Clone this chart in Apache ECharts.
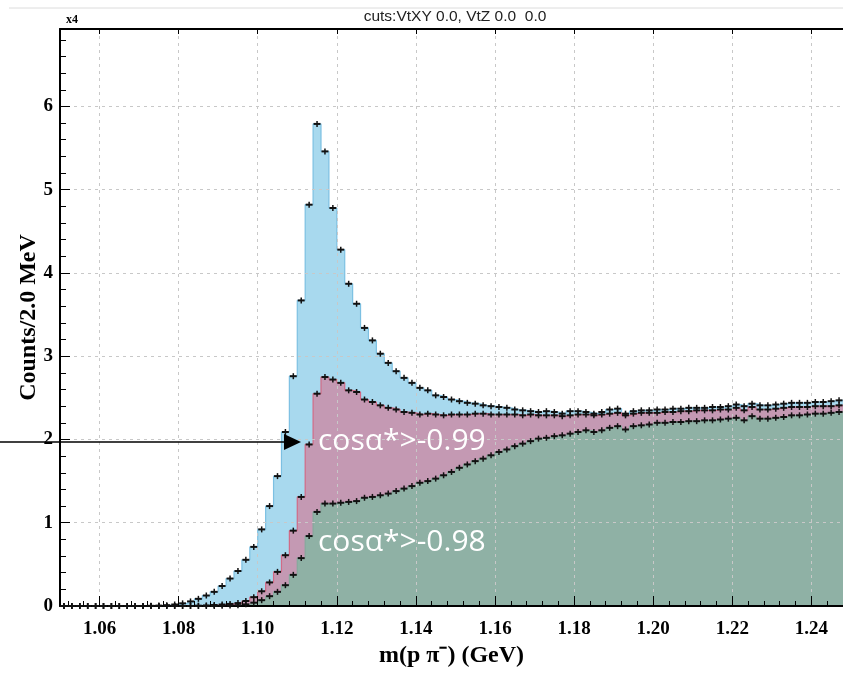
<!DOCTYPE html>
<html>
<head>
<meta charset="utf-8">
<script src="https://cdn.jsdelivr.net/npm/echarts@6/dist/echarts.min.js"></script>
<style>html,body{margin:0;padding:0;background:#fff}#c{width:843px;height:673px}</style>
</head>
<body>
<div id="c"></div>
<script>
// ---- data (counts x 10^4 per 2 MeV bin, bins start at 1.050 GeV) ----
const binStart = 1.05;
const binWidth = 0.002;
const xMin = 1.05, xMax = 1.248;
const xMajorTicks = [1.06, 1.08, 1.10, 1.12, 1.14, 1.16, 1.18, 1.20, 1.22, 1.24];
const yMajorTicks = [0, 1, 2, 3, 4, 5, 6];

// no cosα* cut (blue)
const countsAll = [
  0,0,0,0,0,0,0,0,0,0,
  0,0.002,0.005,0.010,0.018,0.032,0.055,0.086,0.126,0.17,
  0.24,0.33,0.42,0.555,0.71,0.92,1.20,1.56,2.09,2.76,
  3.67,4.82,5.79,5.46,4.78,4.28,3.87,3.63,3.34,3.19,
  3.03,2.92,2.82,2.74,2.68,2.62,2.59,2.53,2.51,2.48,
  2.46,2.44,2.43,2.41,2.40,2.39,2.38,2.36,2.35,2.34,
  2.33,2.34,2.33,2.31,2.34,2.34,2.33,2.31,2.33,2.36,
  2.37,2.31,2.34,2.35,2.35,2.36,2.36,2.37,2.37,2.38,
  2.38,2.38,2.39,2.39,2.40,2.42,2.40,2.43,2.41,2.41,
  2.42,2.43,2.44,2.44,2.44,2.45,2.45,2.46,2.47
];
// cosα* > -0.99 (pink)
const countsCut099 = [
  0,0,0,0,0,0,0,0,0,0,
  0,0,0,0,0,0,0,0.004,0.007,0.012,
  0.018,0.025,0.035,0.06,0.106,0.177,0.283,0.41,0.61,0.905,
  1.31,1.94,2.55,2.75,2.72,2.68,2.59,2.57,2.48,2.45,
  2.41,2.38,2.36,2.33,2.32,2.30,2.31,2.30,2.29,2.30,
  2.30,2.30,2.31,2.31,2.30,2.30,2.30,2.30,2.29,2.30,
  2.29,2.29,2.29,2.28,2.29,2.30,2.30,2.29,2.30,2.31,
  2.32,2.29,2.31,2.32,2.32,2.32,2.33,2.33,2.34,2.34,
  2.35,2.35,2.35,2.36,2.36,2.38,2.35,2.39,2.36,2.36,
  2.37,2.38,2.39,2.39,2.39,2.40,2.40,2.40,2.41
];
// cosα* > -0.98 (green)
const countsCut098 = [
  0,0,0,0,0,0,0,0,0,0,
  0,0,0,0,0,0,0,0,0,0,
  0.004,0.006,0.01,0.02,0.04,0.07,0.118,0.17,0.25,0.374,
  0.575,0.84,1.13,1.23,1.23,1.24,1.25,1.26,1.30,1.31,
  1.33,1.35,1.38,1.41,1.44,1.48,1.50,1.53,1.57,1.61,
  1.66,1.70,1.74,1.77,1.81,1.85,1.88,1.92,1.95,1.98,
  2.01,2.02,2.04,2.05,2.07,2.09,2.11,2.09,2.11,2.14,
  2.16,2.12,2.16,2.17,2.18,2.20,2.20,2.21,2.21,2.22,
  2.22,2.23,2.23,2.24,2.25,2.26,2.23,2.28,2.25,2.25,
  2.26,2.27,2.29,2.29,2.30,2.31,2.31,2.32,2.33
];

// ---- build ----
function edge(i){ return +(binStart + i * binWidth).toFixed(4); }
function stepData(arr){
  const d = arr.map((v, i) => [edge(i), v]);
  d.push([edge(arr.length), arr[arr.length - 1]]);
  return d;
}
function markData(arr){ return arr.map((v, i) => [edge(i), edge(i + 1), v]); }
function renderMark(params, api){
  const lo = api.value(0), hi = api.value(1), v = api.value(2);
  const a = api.coord([lo, v]), b = api.coord([hi, v]);
  const cx = (a[0] + b[0]) / 2;
  return { type: 'group', children: [
    { type: 'line', shape: { x1: a[0] + 0.5, y1: a[1], x2: b[0] - 0.5, y2: a[1] }, style: { stroke: '#111', lineWidth: 2 } },
    { type: 'line', shape: { x1: cx, y1: a[1] - 3, x2: cx, y2: a[1] + 3 }, style: { stroke: '#111', lineWidth: 1.5 } }
  ]};
}
const xMinor = [];
for (let k = 0; k <= 49; k++) { const v = +(1.052 + k * 0.004).toFixed(3); if (v <= xMax) xMinor.push(v); }
const yMinor = [];
for (let k = 1; k <= 34; k++) { if (k % 5 !== 0) yMinor.push(+(k * 0.2).toFixed(1)); }

const serif = 'Liberation Serif, Times New Roman, serif';
const yTop = 6.93;
const grid = { left: 60, right: 0, top: 29, bottom: 59 };
const splitStyle = { show: true, lineStyle: { color: '#c8c8c8', type: [3, 4], width: 1 } };

const chart = echarts.init(document.getElementById('c'), null, { renderer: 'canvas' });
chart.setOption({
  animation: false,
  backgroundColor: '#fff',
  grid: grid,
  xAxis: [
    { type: 'value', min: xMin, max: xMax, position: 'bottom', z: 3,
      name: 'm(p π⁻) (GeV)', nameLocation: 'middle', nameGap: 38, nameMoveOverlap: false,
      nameTextStyle: { fontFamily: serif, fontWeight: 'bold', fontSize: 24, color: '#000' },
      axisLine: { show: true, lineStyle: { color: '#000', width: 2 } },
      axisTick: { show: true, inside: true, length: 10, customValues: xMajorTicks, lineStyle: { color: '#000', width: 1 } },
      axisLabel: { show: true, customValues: xMajorTicks, margin: 14, formatter: v => v.toFixed(2), fontFamily: serif, fontWeight: 'bold', fontSize: 19, color: '#000' },
      splitLine: splitStyle },
    { type: 'value', min: xMin, max: xMax, position: 'bottom', z: 3,
      axisLine: { show: false },
      axisTick: { show: true, inside: true, length: 5, customValues: xMinor, lineStyle: { color: '#000', width: 1 } },
      axisLabel: { show: false }, splitLine: { show: false } },
    { type: 'value', min: xMin, max: xMax, position: 'top', z: 3,
      axisLine: { show: true, lineStyle: { color: '#000', width: 2 } },
      axisTick: { show: true, inside: true, length: 5, customValues: xMajorTicks, lineStyle: { color: '#000', width: 1 } },
      axisLabel: { show: false }, splitLine: { show: false } }
  ],
  yAxis: [
    { type: 'value', min: 0, max: yTop, position: 'left', z: 3,
      name: 'Counts/2.0 MeV', nameLocation: 'middle', nameGap: 19, nameRotate: 90, nameMoveOverlap: false,
      nameTextStyle: { fontFamily: serif, fontWeight: 'bold', fontSize: 24, color: '#000' },
      axisLine: { show: true, lineStyle: { color: '#000', width: 2 } },
      axisTick: { show: true, inside: true, length: 10, customValues: yMajorTicks, lineStyle: { color: '#000', width: 1 } },
      axisLabel: { show: true, customValues: yMajorTicks, margin: 7, fontFamily: serif, fontWeight: 'bold', fontSize: 19, color: '#000' },
      splitLine: splitStyle },
    { type: 'value', min: 0, max: yTop, position: 'left', z: 3,
      axisLine: { show: false },
      axisTick: { show: true, inside: true, length: 6, customValues: yMinor, lineStyle: { color: '#000', width: 1 } },
      axisLabel: { show: false }, splitLine: { show: false } }
  ],
  series: [
    { name: 'all', type: 'line', step: 'end', data: stepData(countsAll), symbol: 'none', z: 1,
      lineStyle: { color: '#7cc0e2', width: 1.2 }, areaStyle: { color: '#a8d9ee', opacity: 1 } },
    { name: 'cosα*>-0.99', type: 'line', step: 'end', data: stepData(countsCut099), symbol: 'none', z: 1,
      lineStyle: { color: '#d26a86', width: 1.2 }, areaStyle: { color: '#c499b3', opacity: 1 } },
    { name: 'cosα*>-0.98', type: 'line', step: 'end', data: stepData(countsCut098), symbol: 'none', z: 1,
      lineStyle: { color: '#86aa9d', width: 1.2 }, areaStyle: { color: '#8fb1a5', opacity: 1 } },
    { type: 'custom', data: markData(countsAll), renderItem: renderMark, z: 5, encode: { x: [0, 1], y: 2 } },
    { type: 'custom', data: markData(countsCut099), renderItem: renderMark, z: 5, encode: { x: [0, 1], y: 2 } },
    { type: 'custom', data: markData(countsCut098), renderItem: renderMark, z: 5, encode: { x: [0, 1], y: 2 } }
  ],
  graphic: [
    { type: 'line', shape: { x1: 9, y1: 8, x2: 843, y2: 8 }, style: { stroke: '#dcdcdc', lineWidth: 1 }, z: 10 },
    { type: 'text', x: 66, y: 20, style: { text: 'x4', font: 'bold 12px ' + serif, fill: '#000', verticalAlign: 'middle' }, z: 10 },
    { type: 'text', x: 455, y: 17, style: { text: 'cuts:VtXY 0.0, VtZ 0.0  0.0', font: '15.5px Liberation Sans, Arial, sans-serif', fill: '#222', align: 'center', verticalAlign: 'middle' }, z: 10 },
    { type: 'line', shape: { x1: 0, y1: 442, x2: 288, y2: 442 }, style: { stroke: '#000', lineWidth: 1.5 }, z: 10 },
    { type: 'polygon', shape: { points: [[284, 434], [301, 442], [284, 450]] }, style: { fill: '#000' }, z: 10 },
    { type: 'text', x: 318, y: 441, style: { text: 'cosα*>-0.99', font: '30px Open Sans, sans-serif', fill: '#fff', verticalAlign: 'middle' }, z: 10 },
    { type: 'text', x: 318, y: 542, style: { text: 'cosα*>-0.98', font: '30px Open Sans, sans-serif', fill: '#fff', verticalAlign: 'middle' }, z: 10 }
  ]
});
</script>
</body>
</html>
